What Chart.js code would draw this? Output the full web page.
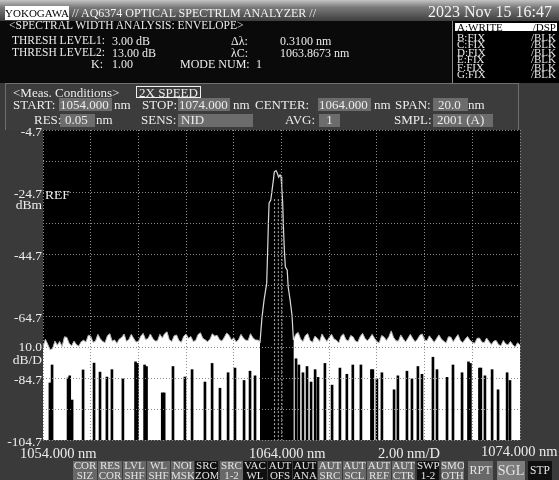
<!DOCTYPE html>
<html><head><meta charset="utf-8">
<script src="https://cdn.jsdelivr.net/npm/chart.js@4.4.0/dist/chart.umd.min.js"></script>
<style>
html,body{margin:0;padding:0;background:#3a3a3a;}
#wrap{position:relative;width:559px;height:480px;overflow:hidden;background:#3a3a3a;font-family:"Liberation Serif","DejaVu Serif",serif;color:#ececec;}
.p{position:absolute;}
.t{position:absolute;white-space:nowrap;line-height:1;z-index:3;}
#topbar{left:0;top:0;width:559px;height:21px;background:linear-gradient(#c4c4c4 0%,#7a7a7a 35%,#3e3e3e 100%);}
#info{left:0;top:21px;width:559px;height:62px;background:#0a0a0a;}
#list{left:452px;top:21px;width:107px;height:62px;background:#000;border-left:1px solid #8a8a8a;}
#meas{left:5px;top:83px;width:514px;height:47px;background:#3c3c3c;border:1px solid #707070;border-bottom:none;box-sizing:border-box;}
.box{position:absolute;background:#6c6c6c;z-index:2;}
.key{position:absolute;top:461px;height:19px;background:#686868;color:#e4e4e4;font-size:11px;line-height:9.4px;text-align:center;z-index:3;overflow:hidden;}
.key.d{background:#101010;}
canvas{position:absolute;left:0;top:0;z-index:1;}
</style></head>
<body><div id="wrap">
<div class="p" id="topbar"></div>
<div class="p" id="info"></div>
<div class="p" id="list"></div>
<div class="p" id="meas"></div>

<div class="p" style="left:5px;top:6px;width:64px;height:14px;background:#fff;z-index:2;"></div>
<div class="t" style="left:5px;top:7.5px;width:64px;text-align:center;font-size:11px;color:#000;">YOKOGAWA</div>
<div class="t" style="left:72px;top:7px;font-size:12px;color:#f2f2f2;">// AQ6374 OPTICAL SPECTRLM ANALYZER //</div>
<div class="t" style="left:428px;top:3.5px;font-size:16px;color:#f4f4f4;">2023 Nov 15 16:47</div>

<div class="t" style="left:9px;top:20px;font-size:11.5px;">&lt;SPECTRAL WIDTH ANALYSIS: ENVELOPE&gt;</div>
<div class="t" style="left:12px;top:35px;font-size:11.5px;">THRESH LEVEL1:</div>
<div class="t" style="left:112px;top:35px;font-size:12px;">3.00 dB</div>
<div class="t" style="left:12px;top:46.5px;font-size:11.5px;">THRESH LEVEL2:</div>
<div class="t" style="left:112px;top:46.5px;font-size:12px;">13.00 dB</div>
<div class="t" style="right:456px;top:58px;font-size:12px;">K:</div>
<div class="t" style="left:112px;top:58px;font-size:12px;">1.00</div>
<div class="t" style="left:231px;top:35px;font-size:12px;">Δλ:</div>
<div class="t" style="left:280px;top:35px;font-size:12px;">0.3100 nm</div>
<div class="t" style="left:231px;top:46.5px;font-size:12px;">λC:</div>
<div class="t" style="left:280px;top:46.5px;font-size:12px;">1063.8673 nm</div>
<div class="t" style="left:180px;top:58px;font-size:12px;">MODE NUM:</div>
<div class="t" style="left:256px;top:58px;font-size:12px;">1</div>

<div class="p" style="left:455px;top:23px;width:102px;height:8px;background:#fff;z-index:2;"></div>
<div id="traces"></div>

<div class="t" style="left:13px;top:86px;font-size:13px;">&lt;Meas. Conditions&gt;</div>
<div class="p" style="left:136px;top:86px;width:65px;height:12px;border:1px solid #f0f0f0;box-sizing:border-box;z-index:2;"></div>
<div class="t" style="left:136px;top:86.3px;width:65px;text-align:center;font-size:13px;">2X SPEED</div>

<div class="box" style="left:59px;top:98px;width:53px;height:13px;"></div>
<div class="box" style="left:178px;top:98px;width:52px;height:13px;"></div>
<div class="box" style="left:318px;top:98px;width:53px;height:13px;"></div>
<div class="box" style="left:433px;top:98px;width:35px;height:13px;"></div>
<div class="box" style="left:60px;top:114px;width:35px;height:13px;"></div>
<div class="box" style="left:178px;top:114px;width:75px;height:13px;"></div>
<div class="box" style="left:319px;top:114px;width:21px;height:13px;"></div>
<div class="box" style="left:433px;top:114px;width:60px;height:13px;"></div>

<div class="t" style="left:13px;top:97.7px;font-size:13px;">START:</div>
<div class="t" style="left:60px;top:97.7px;font-size:13px;">1054.000</div>
<div class="t" style="left:114px;top:97.7px;font-size:13px;">nm</div>
<div class="t" style="left:142px;top:97.7px;font-size:13px;">STOP:</div>
<div class="t" style="left:179px;top:97.7px;font-size:13px;">1074.000</div>
<div class="t" style="left:233px;top:97.7px;font-size:13px;">nm</div>
<div class="t" style="left:255px;top:97.7px;font-size:13px;">CENTER:</div>
<div class="t" style="left:319px;top:97.7px;font-size:13px;">1064.000</div>
<div class="t" style="left:374px;top:97.7px;font-size:13px;">nm</div>
<div class="t" style="left:395px;top:97.7px;font-size:13px;">SPAN:</div>
<div class="t" style="left:438px;top:97.7px;font-size:13px;">20.0</div>
<div class="t" style="left:468px;top:97.7px;font-size:13px;">nm</div>

<div class="t" style="left:34px;top:113.4px;font-size:13px;">RES:</div>
<div class="t" style="left:65px;top:113.4px;font-size:13px;">0.05</div>
<div class="t" style="left:96px;top:113.4px;font-size:13px;">nm</div>
<div class="t" style="left:141px;top:113.4px;font-size:13px;">SENS:</div>
<div class="t" style="left:181px;top:113.4px;font-size:13px;">NID</div>
<div class="t" style="left:285px;top:113.4px;font-size:13px;">AVG:</div>
<div class="t" style="left:319px;top:113.4px;width:21px;text-align:center;font-size:13px;">1</div>
<div class="t" style="left:394px;top:113.4px;font-size:13px;">SMPL:</div>
<div class="t" style="left:437px;top:113.4px;font-size:13px;">2001 (A)</div>

<div class="t" style="left:45px;top:188.4px;font-size:13.5px;">REF</div>
<div class="t" style="right:517px;top:198px;font-size:13.5px;">dBm</div>
<div class="t" style="right:517px;top:340px;font-size:13.5px;">10.0</div>
<div class="t" style="right:517px;top:352.5px;font-size:13.5px;">dB/D</div>

<div class="t" style="left:20px;top:445.5px;font-size:14.5px;">1054.000 nm</div>
<div class="t" style="left:249px;top:445.5px;font-size:14.5px;">1064.000 nm</div>
<div class="t" style="left:378px;top:445.5px;font-size:14.5px;">2.00 nm/D</div>
<div class="t" style="left:481px;top:443.5px;font-size:14.5px;">1074.000 nm</div>

<div id="keys"></div>
<canvas id="c" width="559" height="480"></canvas>
</div>
<script>
// ---- axis ticks ----
const xTicks = [1054,1056,1058,1060,1062,1064,1066,1068,1070,1072,1074];
const yTicks = [-104.7,-94.7,-84.7,-74.7,-64.7,-54.7,-44.7,-34.7,-24.7,-14.7,-4.7];
const yLabelTicks = [-104.7,-84.7,-64.7,-44.7,-24.7,-4.7];

// ---- trace A: noise floor left of the peak (0.1 nm sampling from 1054.0 nm) ----
const leftNoiseStart = 1054.0;
const noiseStep = 0.1;
const leftNoise = [
-74.6,-72.2,-73.8,-75.6,-75.2,-72.8,-74.1,-72.9,-74.5,-71.4,
-71.6,-73.6,-74.3,-72.8,-73.9,-74.4,-73.0,-72.5,-73.1,-70.9,
-71.2,-73.2,-72.8,-70.6,-72.0,-72.9,-73.3,-71.1,-70.4,-72.8,
-72.4,-73.5,-72.1,-71.6,-70.5,-72.9,-72.3,-70.6,-71.9,-73.1,
-72.9,-71.2,-70.3,-72.3,-72.0,-70.5,-71.9,-72.8,-72.7,-70.6,
-71.8,-70.4,-69.8,-72.4,-72.9,-71.1,-70.8,-72.6,-73.2,-71.2,
-70.5,-71.9,-71.3,-72.9,-72.6,-70.7,-70.1,-71.9,-72.4,-73.0,
-72.2,-70.4,-71.2,-70.9,-72.3,-72.8,-71.6,-70.2,-70.9,-72.4,
-71.8,-73.1,-72.3,-70.6,-71.8,-72.5,-72.6,-70.4,-71.7,-72.4,
-72.5];

// ---- trace A: noise floor right of the peak (0.1 nm sampling from 1064.5 nm) ----
const rightNoiseStart = 1064.5;
const rightNoise = [
-72.4,-70.6,-70.0,-72.1,-72.9,-71.0,-70.4,-72.6,-73.2,-71.2,
-71.9,-72.9,-70.5,-71.8,-72.9,-71.6,-70.6,-72.1,-72.5,-73.4,
-71.2,-70.5,-72.3,-72.8,-71.0,-71.4,-72.8,-73.1,-71.3,-70.3,
-71.9,-72.7,-71.8,-70.6,-71.9,-73.0,-73.3,-71.0,-71.5,-72.6,
-71.4,-69.5,-71.6,-72.7,-72.8,-70.8,-72.0,-73.1,-71.9,-70.6,
-71.9,-73.0,-72.2,-70.9,-70.5,-72.4,-72.7,-71.1,-72.1,-73.2,
-72.0,-70.8,-72.1,-72.8,-73.4,-71.4,-71.5,-73.0,-71.8,-70.7,
-72.6,-73.3,-72.2,-71.3,-72.5,-73.2,-73.5,-71.9,-71.8,-73.1,
-73.3,-71.8,-72.9,-73.9,-72.8,-72.6,-73.9,-74.3,-72.6,-73.7,
-74.0,-72.9,-74.0,-74.7,-73.3,-74.1];

// ---- trace A: laser peak ----
const peakWl = [1063.00,1063.10,1063.18,1063.27,1063.38,1063.42,1063.45,1063.48,1063.55,1063.59,1063.66,1063.70,1063.77,1063.82,1063.88,1063.94,1063.98,1064.01,1064.05,1064.08,1064.12,1064.16,1064.24,1064.28,1064.36,1064.44,1064.50];
const peakDb = [-72.5,-73.1,-65.3,-59.5,-54.1,-43.4,-34.7,-28.2,-27.3,-25.0,-20.8,-18.2,-17.8,-18.6,-19.9,-19.2,-19.8,-23.0,-28.2,-35.9,-43.4,-48.8,-49.9,-55.3,-59.5,-64.4,-72.4];

// ---- under-range drop-out columns (wavelength, level where the drop starts) ----
const dropWl = [1054.29,1054.38,1055.05,1055.12,1055.22,1055.68,1056.14,1056.39,1056.68,1056.89,1057.35,1057.88,1057.96,1058.26,1058.34,1059.00,1059.08,1059.45,1059.95,1060.25,1060.79,1061.09,1061.42,1061.76,1062.05,1062.43,1062.68,1062.89,
1064.61,1064.73,1064.90,1065.07,1065.24,1065.41,1065.53,1065.82,1066.12,1066.45,1066.74,1066.99,1067.33,1067.77,1067.83,1068.00,1068.21,1068.72,1068.88,1069.26,1069.47,1069.72,1069.89,1070.35,1070.52,1070.94,1071.19,1071.57,1071.84,1071.92,1072.30,1072.36,1072.53,1072.83,1073.08,1073.46,1073.58];
const dropTop = [-86.3,-80.5,-84.7,-84.0,-91.8,-82.1,-79.9,-82.8,-84.4,-82.0,-85.0,-79.5,-80.0,-80.5,-81.0,-89.5,-89.5,-81.0,-84.4,-82.0,-86.0,-80.0,-88.0,-83.0,-81.5,-85.5,-82.5,-84.0,
-78.5,-80.5,-83.0,-81.0,-86.0,-82.0,-84.5,-80.0,-87.0,-81.5,-83.5,-80.5,-80.5,-82.0,-82.0,-85.0,-83.0,-88.5,-84.0,-82.5,-85.0,-81.0,-83.5,-78.0,-82.0,-84.5,-80.5,-83.0,-79.5,-80.0,-81.5,-81.5,-84.0,-82.0,-88.5,-83.0,-85.5];

// ---- analysis markers ----
const markerWl = [1063.71,1063.867,1064.02];
const markerTop = -27.0;

// ---- trace list / soft keys text ----
const traceRows = [["A:WRITE","/DSP"],["B:FIX","/BLK"],["C:FIX","/BLK"],["D:FIX","/BLK"],["E:FIX","/BLK"],["F:FIX","/BLK"],["G:FIX","/BLK"]];
const softKeys = [
 [73,24,"COR","SIZ",0],[98,24,"RES","COR",0],[123,23,"LVL","SHF",0],[147,23,"WL","SHF",0],[171,23,"NOI","MSK",0],
 [195,23,"SRC","ZOM",1],[220,23,"SRC","1-2",0],[243,24,"VAC","WL",1],[268,24,"AUT","OFS",1],[293,24,"AUT","ANA",1],
 [318,24,"AUT","SRC",0],[343,23,"AUT","SCL",0],[367,24,"AUT","REF",0],[392,23,"AUT","CTR",0],[417,22,"SWP","1-2",1],
 [441,23,"SMO","OTH",0]];

(function(){
  const rowsY=[22.8,32.5,40,47.5,55,62.5,70];
  let h='';
  traceRows.forEach((r,i)=>{
    const col = i===0?'#000':'#e8e8e8';
    h+=`<div class="t" style="left:457px;top:${rowsY[i]}px;font-size:11px;line-height:8.5px;color:${col};">${r[0]}</div>`;
    h+=`<div class="t" style="right:3px;top:${rowsY[i]}px;font-size:11px;line-height:8.5px;color:${col};">${r[1]}</div>`;
  });
  document.getElementById('traces').innerHTML=h;
  let k='';
  softKeys.forEach(s=>{
    k+=`<div class="key${s[4]?' d':''}" style="left:${s[0]}px;width:${s[1]}px;padding-top:0.3px;">${s[2]}<br>${s[3]}</div>`;
  });
  k+=`<div class="key" style="left:468px;width:25px;font-size:12px;line-height:19px;">RPT</div>`;
  k+=`<div class="key" style="left:497px;width:28px;font-size:14px;line-height:19px;background:#7c7c7c;">SGL</div>`;
  k+=`<div class="key d" style="left:528px;width:24px;font-size:11.5px;line-height:19px;">STP</div>`;
  document.getElementById('keys').innerHTML=k;
})();

const leftPts = leftNoise.map((v,i)=>({x:+(leftNoiseStart+i*noiseStep).toFixed(2),y:v}));
leftPts.push({x:1063.10,y:-73.1});
const rightPts = [{x:1064.50,y:-72.4}].concat(rightNoise.map((v,i)=>({x:+(rightNoiseStart+i*noiseStep).toFixed(2),y:v})));
const peakPts = peakWl.map((w,i)=>({x:w,y:peakDb[i]}));
const dropPts = dropWl.map((w,i)=>({x:w,y:[-104.7,dropTop[i]]}));

const markerSets = markerWl.map(w=>({
  type:'line', data:[{x:w,y:markerTop},{x:w,y:-104.7}], borderColor:'#b4b4b4', borderWidth:1,
  borderDash:[2,2], pointRadius:0, fill:false, order:0
}));

const plotBg = {id:'plotBg', beforeDraw(c){const a=c.chartArea,ctx=c.ctx;ctx.save();ctx.fillStyle='#000';ctx.fillRect(a.left,a.top,a.right-a.left,a.bottom-a.top);ctx.restore();}};

new Chart(document.getElementById('c'),{
  type:'line',
  data:{datasets:[
    {type:'line',data:leftPts,borderColor:'#b4b4b4',borderWidth:1,pointRadius:0,tension:0,fill:'start',backgroundColor:'#ffffff',order:3},
    {type:'line',data:rightPts,borderColor:'#b4b4b4',borderWidth:1,pointRadius:0,tension:0,fill:'start',backgroundColor:'#ffffff',order:3},
    {type:'bar',data:dropPts,backgroundColor:'#000000',borderWidth:0,barThickness:2,order:2},
    {type:'line',data:peakPts,borderColor:'#dcdcdc',borderWidth:1.2,pointRadius:0,tension:0,fill:false,order:1},
    ...markerSets
  ]},
  options:{
    responsive:false, animation:false, devicePixelRatio:1,
    layout:{padding:{left:0,top:130,right:39,bottom:40}},
    plugins:{legend:{display:false},tooltip:{enabled:false}},
    scales:{
      x:{type:'linear',min:1054,max:1074,offset:false,
         afterBuildTicks:s=>{s.ticks=xTicks.map(v=>({value:v}));},
         afterFit:s=>{s.height=0;},
         ticks:{display:false},
         grid:{color:'#8c8c8c',lineWidth:1,drawTicks:false,offset:false,z:1},
         border:{display:false,dash:[1,2]}},
      y:{type:'linear',min:-104.7,max:-4.7,beginAtZero:false,
         afterBuildTicks:s=>{s.ticks=yTicks.map(v=>({value:v}));},
         afterFit:s=>{s.width=43;},
         ticks:{autoSkip:false,padding:1,color:'#ececec',labelOffset:2,
                font:{family:'"Liberation Serif", serif',size:13.5},
                callback:v=>yLabelTicks.some(t=>Math.abs(t-v)<1e-6)?v.toFixed(1):''},
         grid:{color:'#8c8c8c',lineWidth:1,drawTicks:false,z:1},
         border:{display:false,dash:[1,2]}}
    }
  },
  plugins:[plotBg]
});
</script>
</body></html>
